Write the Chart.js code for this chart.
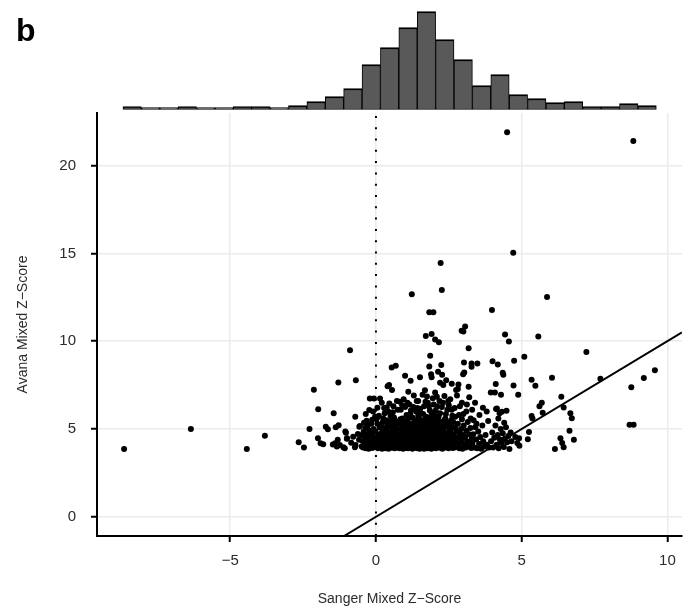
<!DOCTYPE html>
<html>
<head>
<meta charset="utf-8">
<script src="https://cdn.jsdelivr.net/npm/chart.js@4.4.1/dist/chart.umd.min.js"></script>
<style>
  html, body { margin: 0; padding: 0; background: #fff; }
  #wrap { position: relative; width: 689px; height: 615px; overflow: hidden; }
  #scatter, #hist { position: absolute; left: 0; top: 0; }
  #panel { position: absolute; left: 16px; top: 12px; font: bold 32px "Liberation Sans", Arial, sans-serif; color: #000; }
</style>
</head>
<body>
<div id="wrap">
  <canvas id="scatter" width="689" height="615"></canvas>
  <canvas id="hist" width="689" height="112"></canvas>
  <div id="panel">b</div>
</div>
<script>
// axis limits and ticks
const xLimits = [-9.57, 10.5];
const yLimits = [-1.095, 22.995];
const xTicks = [-5, 0, 5, 10];
const yTicks = [0, 5, 10, 15, 20];
const zeroLineX = 0;

// marginal histogram of Sanger Z (bins)
const histBinStart = -8.68;
const histBinWidth = 0.631;
const histCounts = [1,0,0,1,0,0,1,1,0,2,6,11,19,43,60,80,96,68,48,22,33,13,9,5,6,1,1,4,2];

// points [Sanger, Avana], left tail
const leftTail = [
  [-8.64,3.86],[-6.35,5.0],[-4.43,3.86],[-3.81,4.62],[-2.65,4.24],[-2.47,3.94],
  [-2.28,5.0],[-2.13,7.23],[-1.98,6.12],[-1.99,4.47],[-1.9,4.19],[-1.81,4.13],
  [-1.72,5.13],[-1.65,4.98],[-1.45,5.89],[-1.29,7.65],[-1.38,5.1],[-1.28,5.21],
  [-1.48,4.11],[-1.34,4.0],[-1.4,4.19],[-1.31,4.38],[-1.24,4.09],
  [-1.12,3.96],[-1.05,4.85],[-1.0,4.45],[-1.07,3.9],[-0.72,3.96],[-0.7,4.09],
  [-0.71,5.7],[-0.57,5.13],[-0.89,9.49],[-0.69,7.78],[-1.03,4.79],[-0.55,5.17],
  [-0.99,4.47],[-0.78,4.56],[-0.58,4.38],[-0.49,4.66],[-0.49,4.0],[-0.85,4.22],[-0.62,4.72]
];

// central mass, x from about -0.5 to 2
const coreLeft = [
  [-0.41,5.36],[-0.32,5.47],[-0.13,5.53],[-0.03,5.7],[-0.23,6.08],[-0.21,6.74],[-0.07,6.74],[0.14,6.74],[0.05,6.21],
  [-0.45,4.3],[-0.44,3.95],[-0.42,4.85],[-0.4,4.1],[-0.38,4.55],[-0.36,5.05],[-0.35,3.9],[-0.33,4.25],
  [-0.31,4.7],[-0.3,4.0],[-0.28,5.2],[-0.26,4.4],[-0.25,3.88],[-0.23,4.15],[-0.21,4.9],[-0.2,4.6],
  [-0.18,4.05],[-0.16,5.3],[-0.15,4.35],[-0.13,3.92],[-0.11,4.75],[-0.1,4.2],[-0.08,5.0],[-0.06,4.5],
  [-0.05,3.97],[-0.03,4.3],[-0.01,4.85],[0.01,4.1],[0.03,5.6],[0.05,4.45],[0.07,3.9],[0.09,4.65],[0.11,4.25],[0.13,5.1],
  [0.4,7.44],[0.45,7.5],[0.55,7.22],[0.54,8.5],[0.68,8.6],[0.37,6.23],
  [0.2,6.5],[0.3,5.9],[0.6,6.3],[0.72,6.6],[0.25,5.6],[0.5,5.75],[0.65,5.5],[0.42,6.0],
  [0.16,4.0],[0.17,4.6],[0.18,5.2],[0.19,4.3],[0.21,3.88],[0.22,4.85],[0.23,4.15],[0.24,5.4],
  [0.26,4.5],[0.27,3.95],[0.29,4.7],[0.3,4.2],[0.32,5.05],[0.33,3.9],[0.35,4.4],[0.36,4.95],
  [0.38,4.05],[0.39,5.3],[0.41,4.6],[0.43,3.87],[0.44,4.25],[0.46,4.8],[0.47,4.1],[0.49,5.15],
  [0.5,4.45],[0.52,3.93],[0.53,4.7],[0.55,4.3],[0.56,5.0],[0.58,4.0],[0.59,4.55],[0.61,5.25],
  [0.62,4.15],[0.64,3.9],[0.65,4.85],[0.67,4.35],[0.68,4.05],[0.7,5.1],[0.71,4.6],[0.73,3.95],
  [0.74,4.25],[0.75,4.9],[0.76,4.45],[0.77,5.35],[0.2,4.75],[0.48,5.45],
  [1.0,8.03],[1.19,7.75],[1.23,12.67],[1.11,7.12],
  [0.85,6.1],[0.95,6.7],[1.05,5.8],[1.15,6.4],[1.3,6.9],[1.38,6.0],[0.9,5.6],[1.25,5.65],
  [0.82,6.55],[1.35,5.5],[1.0,6.25],[1.2,6.05],
  [0.79,4.2],[0.8,4.9],[0.81,3.9],[0.82,4.5],[0.83,5.3],[0.84,4.05],[0.85,4.7],[0.86,4.3],
  [0.87,5.0],[0.88,3.95],[0.89,4.55],[0.9,4.15],[0.91,5.2],[0.92,4.4],[0.93,3.88],[0.94,4.8],
  [0.95,4.25],[0.96,5.45],[0.97,4.6],[0.98,4.0],[0.99,4.95],[1.01,4.35],[1.02,3.92],[1.03,5.1],
  [1.04,4.5],[1.06,4.1],[1.07,4.75],[1.08,5.35],[1.09,4.2],[1.1,3.9],[1.12,4.65],[1.13,4.4],
  [1.14,5.05],[1.15,4.0],[1.16,4.85],[1.17,4.3],[1.18,5.25],[1.19,3.95],[1.2,4.55],[1.21,4.15],
  [1.22,4.9],[1.24,4.45],[1.25,3.87],[1.26,5.15],[1.27,4.6],[1.28,4.05],[1.29,4.8],[1.3,4.25],
  [1.31,5.4],[1.32,4.5],[1.33,3.93],[1.34,4.7],[1.35,4.1],[1.36,5.0],[1.37,4.35],[1.38,3.98],
  [1.39,4.85],[1.4,4.2],[0.84,5.55],[1.11,5.6],[0.98,5.2],[1.23,4.1],[1.05,4.62],[1.33,5.2],
  [1.71,10.3],[1.91,10.41],[1.83,11.65],[1.97,11.65],[1.86,9.17],[1.83,8.56],[1.51,7.94],
  [1.89,8.12],[1.91,7.94],[2.03,10.1],[2.03,7.08],
  [1.45,6.6],[1.55,5.9],[1.6,6.95],[1.65,6.3],[1.72,5.7],[1.78,6.5],[1.85,6.05],[1.95,6.75],
  [2.0,5.8],[1.5,5.55],[1.68,7.2],[1.9,5.6],[1.42,6.2],[1.75,6.85],[1.98,6.4],
  [1.41,4.5],[1.42,3.9],[1.43,4.95],[1.44,4.2],[1.45,5.3],[1.46,4.65],[1.47,4.0],[1.48,4.4],
  [1.49,5.1],[1.5,3.88],[1.51,4.75],[1.52,4.25],[1.53,5.45],[1.54,4.55],[1.55,3.95],[1.56,4.85],
  [1.57,4.1],[1.58,5.2],[1.59,4.35],[1.6,3.92],[1.61,4.7],[1.62,5.0],[1.63,4.15],[1.64,4.6],
  [1.65,3.87],[1.66,5.35],[1.67,4.45],[1.68,4.05],[1.69,4.9],[1.7,4.3],[1.71,5.15],[1.72,3.97],
  [1.73,4.65],[1.74,4.2],[1.75,5.4],[1.76,4.5],[1.77,3.9],[1.78,4.8],[1.79,4.1],[1.8,5.05],
  [1.81,4.4],[1.82,3.94],[1.83,4.7],[1.84,4.25],[1.85,5.25],[1.86,4.55],[1.87,4.0],[1.88,4.95],
  [1.89,4.35],[1.9,3.88],[1.91,5.1],[1.92,4.6],[1.93,4.15],[1.94,4.85],[1.95,3.96],[1.96,5.3],
  [1.97,4.45],[1.98,4.05],[1.99,4.75],[2.0,4.3],[2.01,5.0],[2.02,3.92],[2.03,4.55],[1.47,5.6],
  [1.63,5.5],[1.79,5.65],[1.93,5.45],[1.55,4.3],[1.72,4.48],[1.88,4.22]
];

// central mass, x from about 2 to 4.6
const coreRight = [
  [2.16,9.94],[2.22,14.45],[2.26,12.92],[2.24,8.65],[2.13,8.26],[2.27,8.09],[2.2,7.63],
  [2.41,7.77],[2.6,7.57],[2.31,7.5],[2.35,6.88],[2.09,6.84],
  [2.1,6.3],[2.2,5.9],[2.3,6.5],[2.45,6.1],[2.55,6.7],[2.62,5.75],[2.38,5.6],[2.5,6.35],[2.18,6.6],[2.58,5.5],
  [2.05,4.4],[2.06,3.9],[2.08,4.85],[2.09,4.15],[2.1,5.25],[2.12,4.6],[2.13,4.0],[2.15,4.75],
  [2.16,4.3],[2.18,5.1],[2.19,3.93],[2.21,4.5],[2.22,4.95],[2.24,4.2],[2.25,5.4],[2.27,4.65],
  [2.28,3.88],[2.3,4.35],[2.31,5.0],[2.33,4.05],[2.34,4.8],[2.36,4.45],[2.37,5.3],[2.39,3.95],
  [2.4,4.6],[2.42,4.25],[2.43,5.15],[2.45,4.0],[2.46,4.7],[2.48,4.4],[2.49,3.9],[2.51,4.9],
  [2.52,4.15],[2.54,5.2],[2.55,4.55],[2.57,4.05],[2.58,4.75],[2.6,4.3],[2.61,5.05],[2.63,3.92],
  [2.64,4.5],[2.66,4.2],[2.12,5.45],[2.35,5.5],[2.5,5.35],[2.2,4.55],
  [2.94,10.6],[3.06,10.83],[3.0,10.55],[3.18,9.6],[3.02,8.79],[3.28,8.73],[3.28,8.54],
  [3.03,8.22],[2.99,8.12],[3.18,7.4],[2.75,7.22],[2.83,7.54],[2.81,7.27],
  [2.7,6.2],[2.85,5.8],[2.95,6.5],[3.1,6.0],[3.2,6.8],[3.25,5.6],[2.78,6.9],
  [2.68,4.6],[2.7,3.95],[2.72,5.1],[2.74,4.3],[2.76,4.85],[2.79,4.05],[2.81,5.3],[2.83,4.5],
  [2.86,3.9],[2.88,4.75],[2.9,4.2],[2.92,5.0],[2.95,4.4],[2.97,3.88],[2.99,4.65],[3.01,5.2],
  [3.04,4.1],[3.06,4.55],[3.08,3.95],[3.1,4.9],[3.13,4.3],[3.15,5.4],[3.17,4.0],[3.2,4.7],
  [3.22,4.25],[3.24,5.05],[3.27,3.92],[3.29,4.5],
  [3.48,8.73],[3.67,6.21],[3.4,6.5],[3.55,5.8],[3.8,6.0],[3.35,5.5],
  [3.31,4.2],[3.34,4.7],[3.37,3.95],[3.41,5.1],[3.44,4.4],[3.47,3.9],[3.51,4.85],[3.54,4.15],
  [3.58,4.55],[3.61,3.88],[3.65,5.2],[3.68,4.3],[3.72,4.0],[3.76,4.65],[3.81,4.1],[3.88,3.95],
  [3.98,11.78],[4.43,10.38],[4.0,8.86],[4.18,8.67],[4.35,8.2],[4.37,8.09],[4.11,7.56],
  [3.94,7.08],[4.08,7.08],[4.29,6.95],[4.48,6.04],[4.12,6.14],[4.24,5.89],[4.15,6.17],[4.32,5.98],[4.5,21.9],
  [3.95,4.3],[3.99,4.8],[4.02,3.95],[4.06,4.5],[4.1,5.2],[4.14,4.1],[4.18,4.65],[4.21,3.9],
  [4.25,4.4],[4.28,5.0],[4.31,4.2],[4.35,4.75],[4.39,3.98],[4.42,4.45],[4.46,5.1],[4.5,4.25],[4.54,4.6]
];

// upper edge of the central mass
const coreUpper = [
  [-0.35,5.85],[-0.1,6.0],[0.1,5.75],[0.28,6.2],[0.46,6.45],[0.58,5.95],[0.75,6.1],[0.9,6.35],
  [1.08,6.5],[1.18,5.85],[1.28,6.25],[1.4,6.6],[1.52,6.15],[1.62,5.85],[1.7,6.55],[1.82,6.3],
  [1.92,5.9],[2.05,6.05],[2.15,5.7],[2.26,6.25],[2.4,5.85],[2.48,6.6],[2.6,6.1],[2.72,5.7],
  [2.88,6.3],[3.0,5.85],[3.12,6.4],[3.3,6.1],[0.05,5.3],[0.35,5.5],[0.62,5.65],[0.93,5.45],
  [1.15,5.3],[1.45,5.75],[1.7,5.35],[1.98,5.55],[2.3,5.2],[2.65,5.4],[2.95,5.55],[3.45,5.3],
  [3.85,5.45],[4.2,5.6],[4.4,5.35]
];

// right tail
const rightTail = [
  [4.71,15.04],[4.56,9.98],[5.09,9.11],[4.74,8.88],[4.72,7.48],[4.88,6.95],[4.58,3.86],
  [4.91,4.47],[4.92,4.05],[4.65,4.3],[4.62,4.8],[4.78,4.55],[4.85,4.2],
  [5.57,10.27],[5.34,7.8],[5.47,7.46],[5.69,6.5],[5.61,6.3],[5.34,5.74],[5.37,5.59],[5.72,5.93],
  [5.25,4.83],[5.21,4.41],
  [5.87,12.52],[6.04,7.92],[6.36,6.84],[6.44,6.23],[6.33,4.47],[6.39,4.2],[6.44,3.96],[6.14,3.86],
  [6.67,5.89],[6.72,5.61],[6.64,4.9],[6.79,4.39],[7.22,9.39],[7.7,7.86],
  [8.83,21.4],[8.7,5.24],[8.84,5.24],[8.76,7.37],[9.19,7.9],[9.57,8.35]
];

const allPoints = leftTail.concat(coreLeft, coreRight, coreUpper, rightTail).map(p => ({x: p[0], y: p[1]}));
const histData = histCounts.map((c, i) => ({x: histBinStart + (i + 0.5) * histBinWidth, y: c}));

const fontFam = '"Liberation Sans", Arial, sans-serif';
const minus = v => String(v).replace('-', '\u2212');

new Chart(document.getElementById('hist'), {
  type: 'bar',
  data: { datasets: [{
    data: histData,
    backgroundColor: '#595959',
    borderColor: '#000',
    borderWidth: {top: 2, left: 1, right: 1, bottom: 1},
    borderSkipped: false,
    base: -2,
    barPercentage: 1,
    categoryPercentage: 1
  }]},
  options: {
    responsive: false, animation: false,
    layout: { padding: {left: 97, right: 7, top: 8, bottom: 2} },
    plugins: { legend: {display: false}, tooltip: {enabled: false} },
    scales: {
      x: { type: 'linear', min: xLimits[0], max: xLimits[1], offset: false, display: false },
      y: { min: -2.5, max: 99.5, display: false }
    }
  }
});

new Chart(document.getElementById('scatter'), {
  type: 'scatter',
  data: { datasets: [
    { data: allPoints, pointRadius: 3, pointBackgroundColor: '#000', pointBorderWidth: 0, order: 0 },
    { type: 'line', data: [{x: yLimits[0], y: yLimits[0]}, {x: xLimits[1], y: xLimits[1]}],
      borderColor: '#000', borderWidth: 2, pointRadius: 0, order: 1 },
    { type: 'line', data: [{x: zeroLineX, y: yLimits[0]}, {x: zeroLineX, y: yLimits[1]}],
      borderColor: '#000', borderWidth: 2, borderDash: [2, 9.3], pointRadius: 0, order: 2 }
  ]},
  options: {
    responsive: false, animation: false,
    layout: { padding: {left: 0, right: 7, top: 113, bottom: 0} },
    plugins: { legend: {display: false}, tooltip: {enabled: false} },
    scales: {
      x: {
        type: 'linear', min: xLimits[0], max: xLimits[1],
        afterBuildTicks: s => { s.ticks = xTicks.map(v => ({value: v})); },
        afterFit: s => { s.height = 79; },
        grid: { color: '#ebebeb', lineWidth: 1.5, tickColor: '#000', tickLength: 6, tickWidth: 2 },
        border: { color: '#000', width: 2 },
        ticks: { color: '#2b2b2b', font: {family: fontFam, size: 15}, padding: 10, callback: v => minus(v) },
        title: { display: true, text: 'Sanger Mixed Z\u2212Score', color: '#2b2b2b',
                 font: {family: fontFam, size: 14}, padding: {top: 4, bottom: 7} }
      },
      y: {
        min: yLimits[0], max: yLimits[1],
        afterBuildTicks: s => { s.ticks = yTicks.map(v => ({value: v})); },
        afterFit: s => { s.width = 97; },
        grid: { color: '#ebebeb', lineWidth: 1.5, tickColor: '#000', tickLength: 6, tickWidth: 2 },
        border: { color: '#000', width: 2 },
        ticks: { color: '#2b2b2b', font: {family: fontFam, size: 15}, padding: 15, callback: v => minus(v) },
        title: { display: true, text: 'Avana Mixed Z\u2212Score', color: '#2b2b2b',
                 font: {family: fontFam, size: 14}, padding: {top: 15, bottom: 4} }
      }
    }
  }
});
</script>
</body>
</html>
